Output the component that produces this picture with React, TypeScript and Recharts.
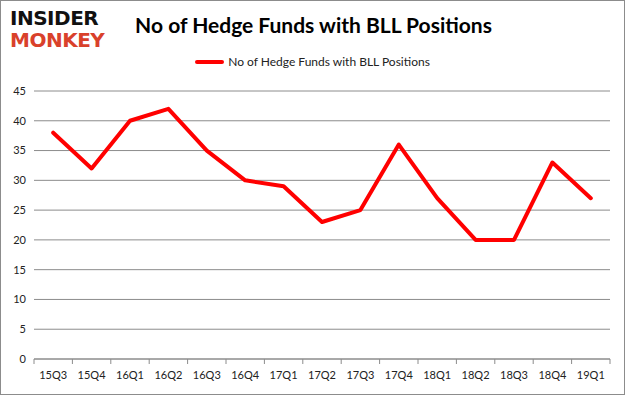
import React from 'react';
import { LineChart, Line, XAxis, YAxis, CartesianGrid, Legend } from 'recharts';

const quarters = ['15Q3', '15Q4', '16Q1', '16Q2', '16Q3', '16Q4', '17Q1', '17Q2', '17Q3', '17Q4', '18Q1', '18Q2', '18Q3', '18Q4', '19Q1'];
const funds = [38, 32, 40, 42, 35, 30, 29, 23, 25, 36, 27, 20, 20, 33, 27];
const yTicks = [0, 5, 10, 15, 20, 25, 30, 35, 40, 45];

const SERIES = 'No of Hedge Funds with BLL Positions';
const FONT = 'Lato, "Open Sans", sans-serif';

const data = quarters.map((q, i) => ({ quarter: q, value: funds[i] }));

// plot spans 34..610, so each category band is this wide
const BAND = (610 - 34) / quarters.length;

const QuarterTick = (props: any) => {
  const { x, y, payload, index } = props;
  const left = x - BAND / 2;
  return (
    <g>
      <line x1={left} x2={left} y1={y - 8} y2={y - 3} stroke="#8c8c8c" />
      {index === quarters.length - 1 && (
        <line x1={x + BAND / 2} x2={x + BAND / 2} y1={y - 8} y2={y - 3} stroke="#8c8c8c" />
      )}
      <text x={x} y={y + 12} textAnchor="middle" fontSize={11} fill="#222" fontFamily={FONT}>
        {payload.value}
      </text>
    </g>
  );
};

const LegendContent = () => (
  <div style={{ display: 'flex', alignItems: 'center', justifyContent: 'center', fontFamily: FONT, fontSize: 12, color: '#222' }}>
    <span style={{ display: 'inline-block', width: 29, height: 4, background: '#ff0000', borderRadius: 2, marginRight: 4 }} />
    {SERIES}
  </div>
);

export default function App() {
  return (
    <div style={{ position: 'fixed', left: 0, top: 0, width: 625, height: 395, background: '#fff', border: '1px solid #8c8c8c', boxSizing: 'border-box', overflow: 'hidden' }}>
      <div style={{ position: 'absolute', left: 9, top: 6, fontFamily: '"DejaVu Sans", sans-serif', fontWeight: 900, fontSize: 20, lineHeight: '22px', letterSpacing: '-0.5px' }}>
        <div style={{ color: '#111' }}>INSIDER</div>
        <div style={{ color: '#d9412b' }}>MONKEY</div>
      </div>
      <div style={{ position: 'absolute', left: 0, top: 11, width: 625, textAlign: 'center', fontFamily: FONT, fontWeight: 700, fontSize: 21, color: '#000' }}>
        <span style={{ position: 'relative', left: 0 }}>{SERIES}</span>
      </div>
      <LineChart width={623} height={393} data={data} margin={{ top: 75, right: 14, bottom: 5, left: 3 }}>
        <CartesianGrid horizontal vertical={false} stroke="#8c8c8c" strokeDasharray="" />
        <XAxis
          dataKey="quarter"
          stroke="#8c8c8c"
          tickLine={false}
          tick={<QuarterTick />}
          interval={0}
          height={30}
          padding={{ left: BAND / 2, right: BAND / 2 }}
        />
        <YAxis
          domain={[0, 45]}
          ticks={yTicks}
          axisLine={false}
          tickLine={false}
          width={30}
          tick={{ fontSize: 11, fill: '#222', fontFamily: FONT }}
        />
        <Legend verticalAlign="top" wrapperStyle={{ top: 53, left: 0, width: 623 }} content={<LegendContent />} />
        <Line
          type="linear"
          dataKey="value"
          name={SERIES}
          stroke="#ff0000"
          strokeWidth={4}
          dot={false}
          activeDot={false}
          isAnimationActive={false}
          strokeLinejoin="round"
          strokeLinecap="round"
        />
      </LineChart>
    </div>
  );
}
